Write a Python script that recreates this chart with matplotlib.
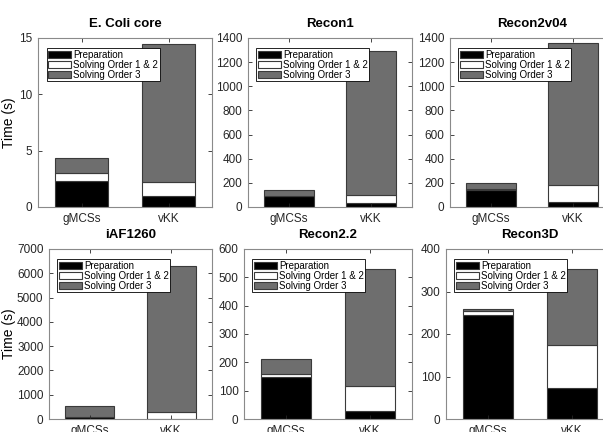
import matplotlib
matplotlib.use('Agg')
import matplotlib.pyplot as plt
import numpy as np

plt.rcParams['font.family'] = ['Liberation Sans', 'DejaVu Sans']

# data (s): [gMCSs, vKK] for each stage
methods = ['gMCSs', 'vKK']
models = ['E. Coli core', 'Recon1', 'Recon2v04', 'iAF1260', 'Recon2.2', 'Recon3D']
stages = ['Preparation', 'Solving Order 1 & 2', 'Solving Order 3']

prep = [[2.3, 1.0], [88, 33], [138, 41], [80, 15], [148, 27], [245, 73]]
solve12 = [[0.7, 1.2], [7, 70], [11, 141], [10, 261], [11, 89], [10, 101]]
solve3 = [[1.35, 12.3], [48, 1187], [50, 1174], [462, 6036], [52, 414], [5, 179]]

ylims = [15, 1400, 1400, 7000, 600, 400]
ysteps = [5, 200, 200, 1000, 100, 100]

colors = ['black', 'white', '#6e6e6e']

# axes boxes in pixels: (left, right, top, bottom)
W, H = 603, 432
boxes = [(38, 212, 38, 207), (248, 412, 38, 207), (450, 614, 38, 207),
         (49, 212, 249, 419), (244, 412, 249, 419), (446, 614, 249, 419)]

fig = plt.figure(figsize=(W / 100, H / 100), dpi=100)

for i, name in enumerate(models):
    l, r, t, b = boxes[i]
    ax = fig.add_axes([l / W, (H - b) / H, (r - l) / W, (b - t) / H])
    x = np.arange(1, 3)
    bottom = np.zeros(2)
    for vals, c, lab in zip([prep[i], solve12[i], solve3[i]], colors, stages):
        ax.bar(x, vals, width=0.6, bottom=bottom, color=c, edgecolor='#3a3a3a',
               linewidth=0.8, label=lab)
        bottom = bottom + np.array(vals)
    ax.set_xlim(0.5, 2.5)
    ax.set_ylim(0, ylims[i])
    ax.set_yticks(np.arange(0, ylims[i] + 1, ysteps[i]))
    ax.set_xticks(x)
    ax.set_xticklabels(methods)
    ax.tick_params(direction='in', length=3, width=0.6, top=True, right=True,
                   labelsize=8.5, colors='#262626', pad=4)
    for s in ax.spines.values():
        s.set_color('#8a8a8a')
        s.set_linewidth(0.8)
    ax.set_title(name, fontsize=9.5, fontweight='bold', pad=8)
    if i % 3 == 0:
        ax.set_ylabel('Time (s)', fontsize=10)
        ax.yaxis.set_label_coords((16 - l) / (r - l), 0.5)
    leg = ax.legend(loc='upper left', bbox_to_anchor=(0.05, 0.94), fontsize=7,
                    handlelength=2.4, handleheight=0.8, labelspacing=0.0,
                    handletextpad=0.2, borderpad=0.15, borderaxespad=0,
                    fancybox=False, framealpha=1)
    leg.get_frame().set_edgecolor('black')
    leg.get_frame().set_linewidth(0.6)

fig.savefig('out.png', dpi=100)
